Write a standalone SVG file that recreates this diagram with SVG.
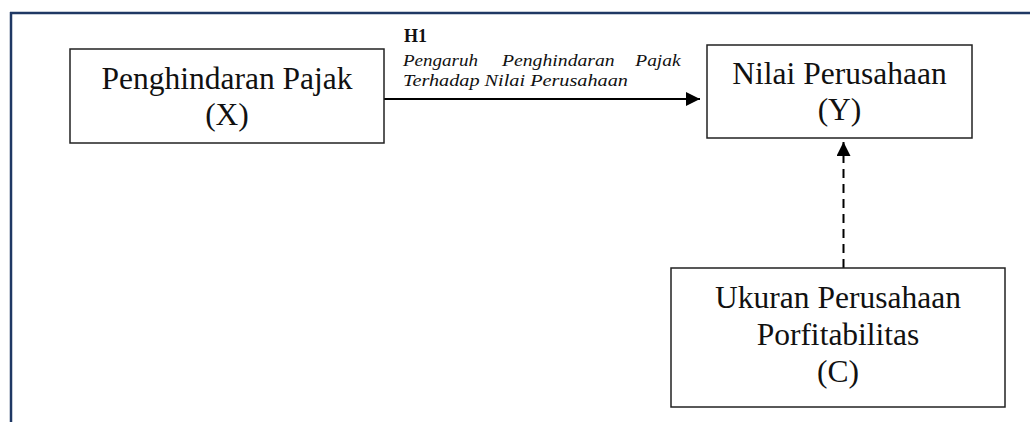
<svg xmlns="http://www.w3.org/2000/svg" width="1030" height="422" viewBox="0 0 1030 422">
<defs>
<style>
.box{fill:#fff;stroke:#222;stroke-width:1.5}
.t{font-family:"Liberation Serif","Times New Roman",serif;font-size:31.5px;fill:#111;text-anchor:middle}
.it{font-family:"Liberation Serif","Times New Roman",serif;font-style:italic;font-size:17.5px;fill:#111}
.h{font-family:"Liberation Serif","Times New Roman",serif;font-weight:bold;font-size:18px;fill:#111}
.ln{stroke:#000;stroke-width:2;fill:none}
</style>
<marker id="ah" viewBox="0 0 10 10" refX="10" refY="5" markerWidth="15" markerHeight="14" markerUnits="userSpaceOnUse" orient="auto">
<path d="M0,0 L10,5 L0,10 Z" fill="#000"/>
</marker>
</defs>
<rect width="1030" height="422" fill="#fff"/>
<g id="frame">
<line x1="10" y1="13" x2="1030" y2="13" stroke="#1f3864" stroke-width="2.5"/>
<line x1="11" y1="12" x2="11" y2="422" stroke="#1f3864" stroke-width="2.5"/>
</g>
<g id="connectors">
<line class="ln" x1="384" y1="99" x2="700" y2="99" marker-end="url(#ah)"/>
<line class="ln" x1="843.5" y1="268" x2="843.5" y2="142" stroke-dasharray="9,6" marker-end="url(#ah)"/>
<g id="label-h1">
<text class="h" x="404" y="42">H1</text>
<text class="it" x="403" y="66" textLength="75" lengthAdjust="spacingAndGlyphs">Pengaruh</text>
<text class="it" x="502" y="66" textLength="112.7" lengthAdjust="spacingAndGlyphs">Penghindaran</text>
<text class="it" x="635.3" y="66" textLength="45.3" lengthAdjust="spacingAndGlyphs">Pajak</text>
<text class="it" x="403" y="86" textLength="225" lengthAdjust="spacingAndGlyphs">Terhadap Nilai Perusahaan</text>
</g>
</g>
<g id="node-x">
<rect class="box" x="70" y="49" width="314" height="94"/>
<text class="t" x="227" y="88.5">Penghindaran Pajak</text>
<text class="t" x="227" y="124.5">(X)</text>
</g>
<g id="node-y">
<rect class="box" x="707" y="45" width="265" height="93"/>
<text class="t" x="839.5" y="83.5">Nilai Perusahaan</text>
<text class="t" x="839.5" y="120">(Y)</text>
</g>
<g id="node-c">
<rect class="box" x="671" y="268" width="334" height="139"/>
<text class="t" x="838" y="308">Ukuran Perusahaan</text>
<text class="t" x="838" y="345">Porfitabilitas</text>
<text class="t" x="838" y="382">(C)</text>
</g>
</svg>
